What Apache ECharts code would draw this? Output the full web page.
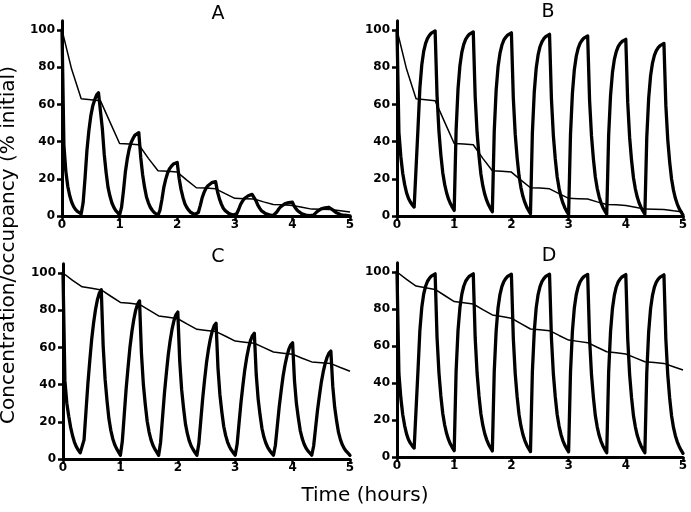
<!DOCTYPE html>
<html><head><meta charset="utf-8">
<script src="https://cdn.jsdelivr.net/npm/echarts@6/dist/echarts.min.js"></script>
<style>html,body{margin:0;padding:0;background:#fff}#c{width:691px;height:512px}</style>
</head><body><div id="c"></div>
<script>
// Panel titles and axis texts
const panelNames = ['A', 'B', 'C', 'D'];
const xTicks = [0, 1, 2, 3, 4, 5];
const yTicks = [0, 20, 40, 60, 80, 100];
const xTitle = 'Time (hours)';
const yTitle = 'Concentration/occupancy (% initial)';

// Thick (pulsatile) curves, sampled every 2 minutes (1/30 h) from 0 to 5 h
const thickA = [100,38,24,16,11,7.5,5.2,3.6,2.5,1.7,1.2,
7.1,20.3,35.4,45.9,53.8,59.1,62.4,65.0,66.3,67,
47.1,33.1,23.2,15.2,10.6,7.0,4.6,2.9,1.8,0.6,
4.6,13.4,23.6,30.7,36.0,39.5,41.7,43.5,44.4,44.8,
31.5,22.2,15.5,10.2,7.1,4.7,3.1,1.9,1.2,0.4,
3.0,8.6,15.2,19.7,23.1,25.4,26.8,27.9,28.5,28.8,
20.3,14.3,10.0,6.6,4.6,3.1,2.0,1.3,0.8,0.3,
1.9,5.6,9.8,12.7,14.9,16.3,17.2,17.9,18.3,18.5,
13.0,9.2,6.4,4.2,2.9,2.0,1.3,0.8,0.5,0.2,
1.2,3.5,6.2,8.0,9.4,10.3,10.9,11.4,11.6,11.7,
8.3,5.8,4.1,2.7,1.9,1.3,0.9,0.6,0.4,0.2,
0.8,2.3,3.9,5.1,6.0,6.5,6.9,7.2,7.3,7.4,
5.2,3.7,2.6,1.7,1.2,0.8,0.5,0.35,0.2,0.1,
0.5,1.4,2.5,3.2,3.8,4.1,4.4,4.6,4.7,4.7,
3.3,2.4,1.7,1.1,0.8,0.5,0.4,0.25,0.2,0.1];

const thickB = [100,45,32,23,17,12.5,9.5,7.5,6,4.8,3.8,
46.9,68.9,81.3,88.5,92.8,95.5,97.1,98.3,99.0,99.5,
64.8,45.5,32.9,23.3,17.0,12.5,9.2,6.7,4.7,3.0,
46.2,68.3,80.8,88.0,92.3,95.0,96.6,97.8,98.5,99,
64.2,44.9,32.3,22.6,16.3,11.8,8.5,6.0,4.0,2.3,
45.6,67.7,80.2,87.4,91.8,94.5,96.1,97.2,98.0,98.5,
63.5,44.0,31.4,21.6,15.3,10.7,7.4,4.9,3.0,1.2,
44.6,66.8,79.4,86.6,91.0,93.6,95.3,96.4,97.2,97.7,
62.8,43.4,30.8,21.1,14.9,10.3,7.0,4.5,2.5,0.8,
44.0,66.1,78.6,85.8,90.1,92.8,94.4,95.6,96.3,96.8,
62.3,43.2,30.7,21.1,14.9,10.4,7.1,4.6,2.7,1.0,
43.3,64.9,77.1,84.2,88.4,91.1,92.7,93.8,94.5,95,
61.2,42.4,30.1,20.7,14.6,10.2,7.0,4.6,2.7,1.0,
42.3,63.4,75.4,82.2,86.4,88.9,90.5,91.6,92.3,92.8,
59.6,41.1,29.1,19.9,13.9,9.5,6.4,4.0,2.2,0.5];

const thickC = [100,42,30,23,17,12.5,9,6.5,4.8,3.3,2.3,
10.3,25.4,40.4,52.9,64.4,73.3,80.4,85.7,89.2,91,
60.7,42.9,31.4,21.6,15.4,10.9,7.8,5.6,3.8,2.0,
9.5,23.6,37.7,49.3,60.1,68.4,75.0,80.0,83.3,85,
56.8,40.2,29.4,20.3,14.5,10.3,7.4,5.3,3.7,2,
8.9,22.0,35.1,45.9,55.9,63.6,69.8,74.4,77.5,79,
52.8,37.4,27.4,18.9,13.6,9.7,7.0,5.1,3.5,2,
8.4,20.5,32.5,42.5,51.7,58.8,64.5,68.7,71.6,73,
48.9,34.7,25.4,17.6,12.7,9.1,6.6,4.8,3.4,2,
7.9,19.1,30.2,39.4,47.9,54.5,59.7,63.7,66.3,67.6,
45.3,32.2,23.6,16.4,11.8,8.6,6.3,4.6,3.3,2,
7.4,17.7,28.0,36.5,44.4,50.4,55.2,58.9,61.3,62.5,
41.9,29.8,22.0,15.3,11.1,8.1,5.9,4.4,3.2,2,
7.0,16.6,26.1,33.9,41.2,46.8,51.3,54.6,56.9,58,
39.0,27.8,20.5,14.3,10.4,7.6,5.6,4.2,3.1,2];

const thickD = [100,45,32,23,17,12.5,9.5,7.5,6,4.8,3.8,
46.6,68.5,80.9,88.1,92.3,95.0,96.6,97.8,98.5,99,
64.6,45.5,33.0,23.5,17.3,12.8,9.5,7.0,5.1,3.4,
46.4,68.4,80.8,88.0,92.3,95.0,96.6,97.8,98.5,99,
64.5,45.4,33.0,23.4,17.2,12.7,9.4,6.9,5.0,3.3,
46.3,68.2,80.7,87.8,92.1,94.8,96.4,97.6,98.3,98.8,
64.3,45.1,32.6,23.0,16.8,12.3,9.0,6.5,4.6,2.9,
46.1,68.1,80.6,87.8,92.1,94.8,96.4,97.6,98.3,98.8,
64.2,45.0,32.6,23.0,16.7,12.2,8.9,6.4,4.5,2.8,
46.0,68.0,80.5,87.7,92.0,94.7,96.3,97.5,98.2,98.7,
64.0,44.7,32.2,22.5,16.3,11.7,8.5,6.0,4.0,2.3,
45.6,67.8,80.3,87.5,91.9,94.6,96.2,97.3,98.1,98.6,
63.9,44.7,32.2,22.5,16.3,11.7,8.5,6.0,4.0,2.3,
45.6,67.7,80.2,87.4,91.8,94.5,96.1,97.2,98.0,98.5,
63.8,44.5,31.9,22.3,16.0,11.5,8.2,5.7,3.7,2.0];

// Thin curves, sampled every 10 minutes (1/6 h) from 0 to 5 h
const thinA = [100,79,63,62.5,62,50.5,39,38.7,38.3,31,24.3,24,23.6,19.3,15.2,15,14.6,12,9.5,9.3,9.1,7.6,6.2,6.0,5.7,4.7,3.7,3.6,3.5,2.8,2.1];
const thinB = [100,79,63,62.5,62,50.5,39,38.7,38.3,31,24.3,24,23.6,19.3,15.2,15,14.6,12,9.5,9.3,9.1,7.6,6.2,6.0,5.7,4.7,3.7,3.6,3.5,2.8,2.2];
const thinC = [100,96,92.6,91.8,90.9,87.5,84.2,83.7,83.1,80,76.9,76.2,75.4,72.5,69.7,69.1,68.5,66,63.4,62.8,62.2,59.9,57.5,56.9,56.3,54.2,52.2,51.8,51.3,49.2,47.2];
const thinD = [100,96,92.4,91.5,90.6,87.3,84,83.4,82.7,79.7,76.8,75.9,75,72.1,69.2,68.8,68.3,65.7,63.2,62.5,61.8,59.3,56.9,56.3,55.7,53.6,51.5,51.1,50.6,48.8,47];

const thickSets = [thickA, thickB, thickC, thickD];
const thinSets = [thinA, thinB, thinC, thinD];

const grids = [
  {left: 62, top: 20.7, width: 288, height: 195.3},
  {left: 397, top: 20.7, width: 286, height: 195.3},
  {left: 63, top: 263.7, width: 287, height: 195.3},
  {left: 397, top: 262.75, width: 286, height: 194.25}
];
const titlePos = [[218, 14], [548, 12], [218, 257], [549, 256]];

const axisFont = {fontFamily: 'DejaVu Sans', fontWeight: 'bold', fontSize: 12, color: '#000'};
const xAxes = [], yAxes = [], series = [], graphics = [];
for (let p = 0; p < 4; p++) {
  xAxes.push({
    gridIndex: p, type: 'value', min: 0, max: 5, interval: 1,
    axisLine: {show: true, onZero: false, lineStyle: {color: '#000', width: 3}},
    axisTick: {show: true, length: 5, lineStyle: {color: '#000', width: 2.5}},
    axisLabel: Object.assign({margin: 3, formatter: v => String(v)}, axisFont),
    splitLine: {show: false}
  });
  yAxes.push({
    gridIndex: p, type: 'value', min: 0, max: 105,
    axisLine: {show: true, onZero: false, lineStyle: {color: '#000', width: 3}},
    axisTick: {show: true, length: 5, customValues: yTicks, lineStyle: {color: '#000', width: 2.5}},
    axisLabel: Object.assign({margin: 7, customValues: yTicks}, axisFont),
    splitLine: {show: false}
  });
  series.push({
    type: 'line', xAxisIndex: p, yAxisIndex: p, showSymbol: false, silent: true,
    data: thinSets[p].map((v, i) => [i / 6, v]),
    lineStyle: {color: '#000', width: 1.5}, z: 2
  });
  series.push({
    type: 'line', xAxisIndex: p, yAxisIndex: p, showSymbol: false, silent: true,
    data: thickSets[p].map((v, i) => [i / 30, v]),
    lineStyle: {color: '#000', width: 3.3, join: 'round', cap: 'round'}, z: 3
  });
  graphics.push({
    type: 'text', x: titlePos[p][0], y: titlePos[p][1],
    style: {text: panelNames[p], fontFamily: 'DejaVu Sans', fontSize: 19, fill: '#000', align: 'center', verticalAlign: 'middle'}
  });
}
graphics.push({
  type: 'text', x: 365, y: 496,
  style: {text: xTitle, fontFamily: 'DejaVu Sans', fontSize: 20, fill: '#000', align: 'center', verticalAlign: 'middle'}
});
graphics.push({
  type: 'text', x: 9, y: 245, rotation: Math.PI / 2,
  style: {text: yTitle, fontFamily: 'DejaVu Sans', fontSize: 20, fill: '#000', align: 'center', verticalAlign: 'middle'}
});

const chart = echarts.init(document.getElementById('c'), null, {renderer: 'canvas'});
chart.setOption({
  animation: false,
  backgroundColor: '#fff',
  grid: grids,
  xAxis: xAxes,
  yAxis: yAxes,
  series: series,
  graphic: graphics
});
</script></body></html>
